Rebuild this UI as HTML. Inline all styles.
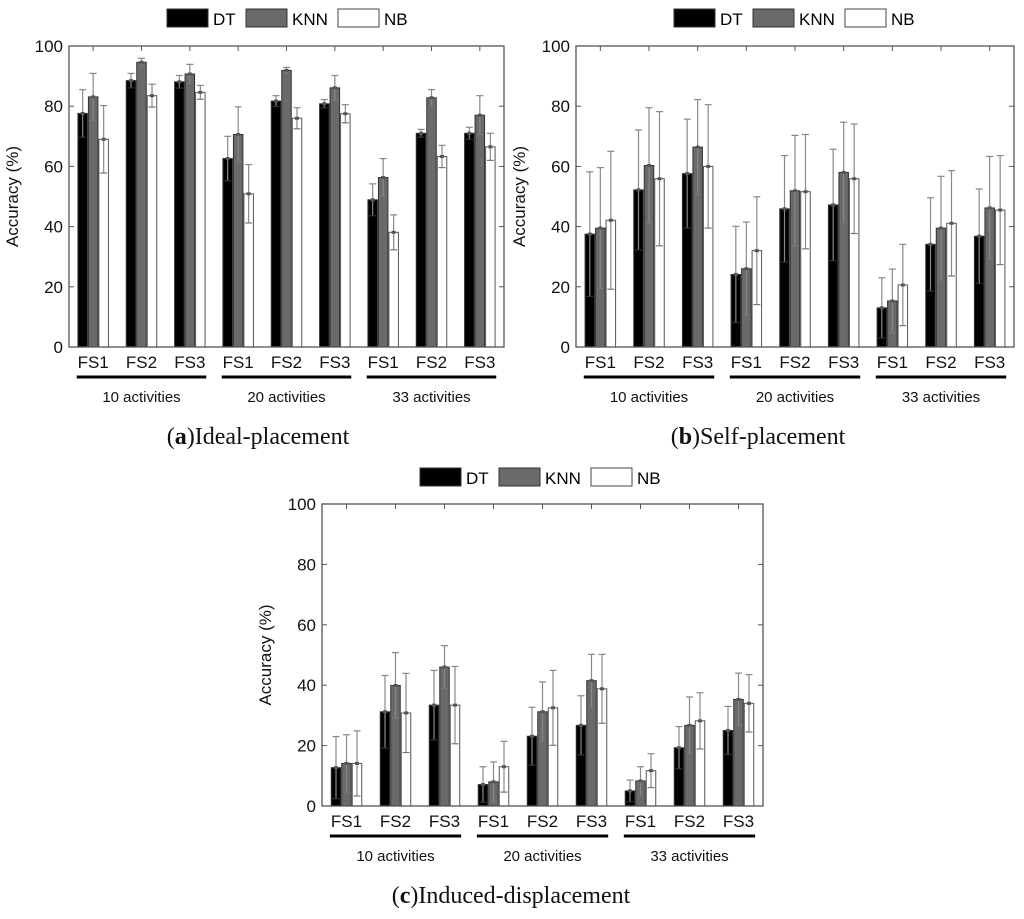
<!DOCTYPE html>
<html><head><meta charset="utf-8"><style>
html,body{margin:0;padding:0;background:#fff;}
svg{display:block;font-family:"Liberation Sans",sans-serif;}
</style></head><body>
<svg id="fig" width="1024" height="919" viewBox="0 0 1024 919"></svg>
<script>
const categories = ["FS1","FS2","FS3","FS1","FS2","FS3","FS1","FS2","FS3"];
const groupLabels = ["10 activities","20 activities","33 activities"];
const seriesNames = ["DT","KNN","NB"];
const yTicks = [0,20,40,60,80,100];
// Panel (a) Ideal-placement
const aDT = [77.6,88.5,88.1,62.6,81.7,80.8,48.9,71,71];
const aKNN = [83.1,94.6,90.7,70.6,91.9,86.1,56.3,82.8,77];
const aNB = [69,83.5,84.6,50.9,76,77.5,38.1,63.3,66.5];
const aDTerr = [7.9,2.4,2.1,7.4,1.8,1.4,5.3,1.3,2];
const aKNNerr = [7.8,1.3,3.2,9.2,1,4.1,6.3,2.7,6.5];
const aNBerr = [11.2,3.8,2.3,9.7,3.5,3,5.8,3.7,4.5];
// Panel (b) Self-placement
const bDT = [37.5,52.2,57.6,24.1,45.9,47.2,13,34.1,36.8];
const bKNN = [39.5,60.3,66.4,26,51.9,58,15.3,39.5,46.2];
const bNB = [42.1,55.9,60,32,51.6,55.9,20.6,41.1,45.5];
const bDTerr = [20.7,19.9,18.1,16,17.7,18.5,10,15.5,15.7];
const bKNNerr = [20.1,19.2,15.8,15.5,18.4,16.7,10.6,17.2,17.1];
const bNBerr = [22.9,22.3,20.5,17.9,19,18.2,13.5,17.5,18.1];
// Panel (c) Induced-displacement
const cDT = [12.7,31.2,33.4,7.1,23.1,26.7,5,19.3,25];
const cKNN = [14.1,39.9,46,8,31.2,41.5,8.3,26.7,35.3];
const cNB = [14.1,30.8,33.4,13,32.5,38.8,11.7,28.2,34];
const cDTerr = [10.3,12,11.5,5.9,9.6,9.8,3.6,7,8];
const cKNNerr = [9.5,10.9,7.1,6.6,9.9,8.7,4.7,9.4,8.7];
const cNBerr = [10.8,13.1,12.8,8.4,12.4,11.4,5.6,9.3,9.5];

const NS="http://www.w3.org/2000/svg";
const svg=document.getElementById('fig');
function mk(tag,attrs,parent,text){const e=document.createElementNS(NS,tag);for(const k in attrs)e.setAttribute(k,attrs[k]);if(text!==undefined)e.textContent=text;(parent||svg).appendChild(e);return e;}

const fills=["#000","#6a6a6a","#fff"];
function panel(id,L,T,R,B,legY,series,errs,capX,capY,capLetter,capText){
  const g=mk('g',{});
  
  
  const sp=(R-L)/9;
  const xc=i=>L+sp*(i+0.5);
  const ys=v=>B-(v/100)*(B-T);
  const lg=mk('g',{},g);
  
  
  const lx=[L+98,L+177,L+269];
  seriesNames.forEach((n,k)=>{
    const e=mk('g',{},lg);
    
    
    mk('rect',{x:lx[k],y:legY,width:41,height:18,fill:fills[k],stroke:k===2?'#444':'#333','stroke-width':1},e);
    mk('text',{x:lx[k]+46,y:legY+16,'font-size':17,fill:'#000'},e,n);
  });
  const bw=9.5, off=[-10.5,0,10.5];
  series.forEach((arr,k)=>{
    arr.forEach((v,i)=>{
      const x=xc(i)+off[k];
      const r=mk('rect',{x:x-bw/2,y:ys(v),width:bw,height:B-ys(v),fill:fills[k],stroke:k===2?'#555':'#333','stroke-width':1},g);
      
      
      const e=errs[k][i];
      const eb=mk('g',{stroke:'#888','stroke-width':1.2,fill:'none'},g);
      
      
      mk('line',{x1:x,x2:x,y1:ys(v+e),y2:ys(Math.max(0,v-e))},eb);
      mk('line',{x1:x-3.5,x2:x+3.5,y1:ys(v+e),y2:ys(v+e)},eb);
      if(v-e>0)mk('line',{x1:x-3.5,x2:x+3.5,y1:ys(v-e),y2:ys(v-e),stroke:k===0?'#333':'#777'},eb);
      mk('rect',{x:x-2,y:ys(v)-1.5,width:4,height:3,fill:'#555',stroke:'none'},eb);
    });
  });
  const f=mk('rect',{x:L,y:T,width:R-L,height:B-T,fill:'none',stroke:'#555','stroke-width':1.3},g);
  
  
  yTicks.forEach(t=>{
    const y=ys(t);
    mk('line',{x1:L,x2:L+5,y1:y,y2:y,stroke:'#555'},g);
    mk('line',{x1:R,x2:R-5,y1:y,y2:y,stroke:'#555'},g);
    const tl=mk('text',{x:L-6,y:y+6,'text-anchor':'end','font-size':17,fill:'#111'},g,String(t));
    
    
  });
  categories.forEach((c,i)=>{
    mk('line',{x1:xc(i),x2:xc(i),y1:T,y2:T+5,stroke:'#555'},g);
    const t=mk('text',{x:xc(i),y:B+21,'text-anchor':'middle','font-size':17,fill:'#111'},g,c);
    
    
  });
  groupLabels.forEach((gl,j)=>{
    const a=xc(j*3)-0.34*sp, b=xc(j*3+2)+0.34*sp;
    const ln=mk('line',{x1:a,x2:b,y1:B+30,y2:B+30,stroke:'#000','stroke-width':3},g);
    
    
    const t=mk('text',{x:(a+b)/2,y:B+55,'text-anchor':'middle','font-size':15,fill:'#111'},g,gl);
    
    
  });
  const yl=mk('text',{x:0,y:0,transform:`translate(${L-51},${(T+B)/2}) rotate(-90)`,'text-anchor':'middle','font-size':17,fill:'#111'},g,'Accuracy (%)');
  
  
  const cap=mk('text',{x:capX,y:capY,'text-anchor':'middle','font-family':'"Liberation Serif",serif','font-size':24,fill:'#111'},g);
  
  
  mk('tspan',{},cap,'(');
  mk('tspan',{'font-weight':'bold'},cap,capLetter);
  mk('tspan',{},cap,')'+capText);
}
panel('a',69,46,504,347,9,[aDT,aKNN,aNB],[aDTerr,aKNNerr,aNBerr],258,444,'a','Ideal-placement');
panel('b',576,46,1014,347,9,[bDT,bKNN,bNB],[bDTerr,bKNNerr,bNBerr],758,444,'b','Self-placement');
panel('c',322,504,763,806,468,[cDT,cKNN,cNB],[cDTerr,cKNNerr,cNBerr],511,903,'c','Induced-displacement');
</script>
</body></html>
